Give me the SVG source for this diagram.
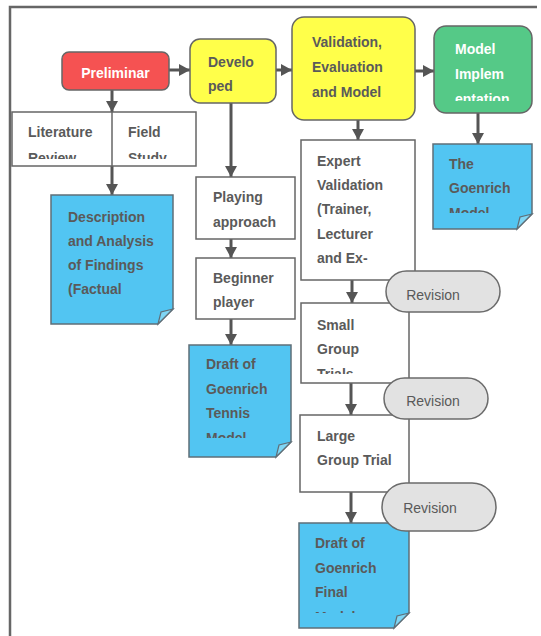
<svg xmlns="http://www.w3.org/2000/svg" width="541" height="636" viewBox="0 0 541 636">
<style>
.t{font-family:"Liberation Sans",Arial,sans-serif;font-size:14px;font-weight:bold;fill:#5a5a5a}
.w{fill:#ffffff}
.r{font-family:"Liberation Sans",Arial,sans-serif;font-size:14px;fill:#595959;text-anchor:middle}
.box{fill:#ffffff;stroke:#666666;stroke-width:1.5}
.note{fill:#52C5F2;stroke:#5f6f78;stroke-width:1.5}
.fold{fill:#7fd6f5;stroke:#5f6f78;stroke-width:1.2}
.pill{fill:#e2e2e2;stroke:#6b6b6b;stroke-width:1.5}
.c{fill:none;stroke:#555555;stroke-width:3}
</style>
<defs>
<marker id="ah" markerUnits="userSpaceOnUse" markerWidth="12" markerHeight="12" viewBox="0 0 12 12" refX="11" refY="6" orient="auto">
<path d="M0,0 L11,6 L0,12 z" fill="#555555"/>
</marker>
<clipPath id="cLit"><rect x="12" y="112" width="184" height="47"/></clipPath>
<clipPath id="cImp"><rect x="434" y="26" width="98" height="75"/></clipPath>
<clipPath id="cGm"><rect x="433" y="144" width="99" height="69"/></clipPath>
<clipPath id="cDt"><rect x="189" y="345" width="102" height="93"/></clipPath>
<clipPath id="cSg"><rect x="301" y="303" width="108" height="71"/></clipPath>
<clipPath id="cDf"><rect x="299" y="523" width="110" height="90"/></clipPath>
</defs>
<rect width="541" height="636" fill="#ffffff"/>
<path d="M10,636 V7 H537" fill="none" stroke="#666666" stroke-width="2.5"/>

<g id="connectors">
<path class="c" d="M169,70 H190" marker-end="url(#ah)"/>
<path class="c" d="M276,70 H292" marker-end="url(#ah)"/>
<path class="c" d="M415,71 H434" marker-end="url(#ah)"/>
<path class="c" d="M112,90 V112" marker-end="url(#ah)"/>
<path class="c" d="M112,166 V195" marker-end="url(#ah)"/>
<path class="c" d="M231,103 V177" marker-end="url(#ah)"/>
<path class="c" d="M231,239 V258" marker-end="url(#ah)"/>
<path class="c" d="M231,319 V345" marker-end="url(#ah)"/>
<path class="c" d="M358,120 V140" marker-end="url(#ah)"/>
<path class="c" d="M478,113 V144" marker-end="url(#ah)"/>
<path class="c" d="M352,280 V303" marker-end="url(#ah)"/>
<path class="c" d="M351,383 V415" marker-end="url(#ah)"/>
<path class="c" d="M351,492 V523" marker-end="url(#ah)"/>
</g>

<g id="preliminar">
<rect x="62" y="52" width="107" height="38" rx="7" fill="#F55252" stroke="#666666" stroke-width="1.5"/>
<text class="t w" x="115.5" y="78" text-anchor="middle">Preliminar</text>
</g>

<g id="developed">
<rect x="190" y="39" width="86" height="64" rx="10" fill="#FFFF4A" stroke="#666666" stroke-width="1.5"/>
<text class="t" x="208" y="67">Develo</text>
<text class="t" x="208" y="91">ped</text>
</g>

<g id="validation">
<rect x="292" y="17" width="123" height="103" rx="12" fill="#FFFF4A" stroke="#666666" stroke-width="1.5"/>
<text class="t" x="312" y="47">Validation,</text>
<text class="t" x="312" y="72">Evaluation</text>
<text class="t" x="312" y="97">and Model</text>
</g>

<g id="model-implementation">
<rect x="434" y="26" width="98" height="87" rx="12" fill="#55C987" stroke="#666666" stroke-width="1.5"/>
<g clip-path="url(#cImp)">
<text class="t w" x="455" y="54">Model</text>
<text class="t w" x="455" y="79">Implem</text>
<text class="t w" x="455" y="104">entation</text>
</g>
</g>

<g id="literature-field">
<rect class="box" x="12" y="112" width="184" height="54"/>
<line x1="112" y1="112" x2="112" y2="166" stroke="#666666" stroke-width="1.5"/>
<g clip-path="url(#cLit)">
<text class="t" x="28" y="137">Literature</text>
<text class="t" x="28" y="163">Review</text>
<text class="t" x="128" y="137">Field</text>
<text class="t" x="128" y="163">Study</text>
</g>
</g>

<g id="description">
<path class="note" d="M51,195 H173 V309 L158,324 H51 Z"/>
<path class="fold" d="M158,324 L161,312 L173,309 Z"/>
<text class="t" x="68" y="222">Description</text>
<text class="t" x="68" y="246">and Analysis</text>
<text class="t" x="68" y="270">of Findings</text>
<text class="t" x="68" y="294">(Factual</text>
</g>

<g id="playing-approach">
<rect class="box" x="196" y="177" width="99" height="62"/>
<text class="t" x="213" y="202">Playing</text>
<text class="t" x="213" y="227">approach</text>
</g>

<g id="beginner-player">
<rect class="box" x="196" y="258" width="99" height="61"/>
<text class="t" x="213" y="283">Beginner</text>
<text class="t" x="213" y="307">player</text>
</g>

<g id="draft-tennis">
<path class="note" d="M189,345 H291 V442 L276,457 H189 Z"/>
<path class="fold" d="M276,457 L279,445 L291,442 Z"/>
<g clip-path="url(#cDt)">
<text class="t" x="206" y="369">Draft of</text>
<text class="t" x="206" y="394">Goenrich</text>
<text class="t" x="206" y="418">Tennis</text>
<text class="t" x="206" y="443">Model</text>
</g>
</g>

<g id="goenrich-model">
<path class="note" d="M433,144 H532 V214 L517,229 H433 Z"/>
<path class="fold" d="M517,229 L520,217 L532,214 Z"/>
<g clip-path="url(#cGm)">
<text class="t" x="449" y="169">The</text>
<text class="t" x="449" y="193">Goenrich</text>
<text class="t" x="449" y="218">Model</text>
</g>
</g>

<g id="expert-validation">
<rect class="box" x="301" y="140" width="114" height="140"/>
<text class="t" x="317" y="166">Expert</text>
<text class="t" x="317" y="190">Validation</text>
<text class="t" x="317" y="214">(Trainer,</text>
<text class="t" x="317" y="239">Lecturer</text>
<text class="t" x="317" y="263">and Ex-</text>
</g>

<g id="small-group">
<rect class="box" x="301" y="303" width="108" height="80"/>
<g clip-path="url(#cSg)">
<text class="t" x="317" y="330">Small</text>
<text class="t" x="317" y="354">Group</text>
<text class="t" x="317" y="379">Trials</text>
</g>
</g>

<g id="large-group">
<rect class="box" x="300" y="415" width="109" height="77"/>
<text class="t" x="317" y="441">Large</text>
<text class="t" x="317" y="465">Group Trial</text>
</g>

<g id="draft-final">
<path class="note" d="M299,523 H409 V613 L394,628 H299 Z"/>
<path class="fold" d="M394,628 L397,616 L409,613 Z"/>
<g clip-path="url(#cDf)">
<text class="t" x="315" y="548">Draft of</text>
<text class="t" x="315" y="573">Goenrich</text>
<text class="t" x="315" y="597">Final</text>
<text class="t" x="315" y="622">Model</text>
</g>
</g>

<g id="revision-1">
<rect class="pill" x="386" y="271" width="114" height="41" rx="20.5"/>
<text class="r" x="433" y="300">Revision</text>
</g>

<g id="revision-2">
<rect class="pill" x="384" y="378" width="104" height="41" rx="20.5"/>
<text class="r" x="433" y="406">Revision</text>
</g>

<g id="revision-3">
<rect class="pill" x="382" y="483" width="114" height="48" rx="24"/>
<text class="r" x="430" y="513">Revision</text>
</g>
</svg>
